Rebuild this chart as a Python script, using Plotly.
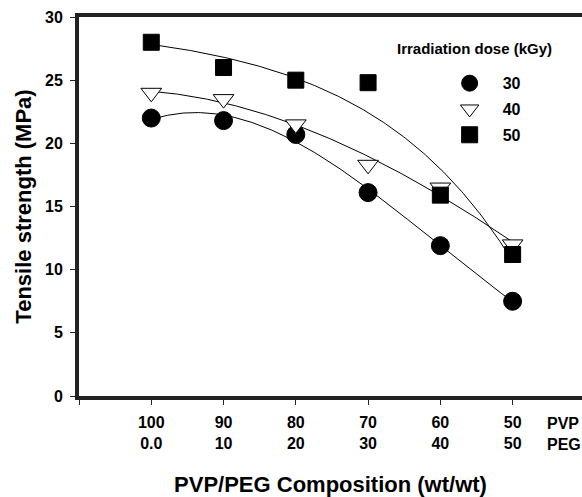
import numpy as np
import plotly.graph_objects as go

# ---- data ----
pvp = ["100", "90", "80", "70", "60", "50"]
peg = ["0.0", "10", "20", "30", "40", "50"]
xpos = [1, 2, 3, 4, 5, 6]
dose_30 = [22.0, 21.8, 20.7, 16.1, 11.9, 7.5]
dose_40 = [24.0, 23.5, 21.5, 18.3, 16.5, 12.0]
dose_50 = [28.0, 26.0, 25.0, 24.8, 15.9, 11.2]
series_names = ["30", "40", "50"]
y_ticks = [0, 5, 10, 15, 20, 25, 30]

FONT = "Liberation Sans, Arial, sans-serif"
fig = go.Figure()


def poly_fit(x, y, deg, xx):
    return np.polyval(np.polyfit(x, y, deg), xx)


def exp_fit(x, y, xx):
    # least-squares fit of y = A + B*exp(k*x)
    x = np.asarray(x, float)
    y = np.asarray(y, float)
    best = None
    for k in np.linspace(0.05, 1.5, 400):
        M = np.column_stack([np.ones_like(x), np.exp(k * x)])
        c, *_ = np.linalg.lstsq(M, y, rcond=None)
        sse = float(np.sum((M @ c - y) ** 2))
        if best is None or sse < best[0]:
            best = (sse, k, c)
    _, k, c = best
    return c[0] + c[1] * np.exp(k * xx)


xx = np.linspace(1, 6, 200)
fits = [poly_fit(xpos, dose_30, 3, xx),
        poly_fit(xpos, dose_40, 3, xx),
        exp_fit(xpos, dose_50, xx)]
for fy in fits:
    fig.add_trace(go.Scatter(x=xx, y=fy, mode="lines",
                             line=dict(color="black", width=1), showlegend=False,
                             hoverinfo="skip"))

styles = [
    dict(symbol="circle", size=18, color="black", line=dict(color="black", width=1)),
    dict(symbol="triangle-down", size=18, color="white", line=dict(color="black", width=1)),
    dict(symbol="square", size=16, color="black", line=dict(color="black", width=1)),
]
for ys, name, st in zip([dose_30, dose_40, dose_50], series_names, styles):
    fig.add_trace(go.Scatter(x=xpos, y=ys, mode="markers", name=name, marker=st,
                             legendgroup=name))

ticktext = [f"{a}<br>{b}" for a, b in zip(pvp, peg)]

fig.update_layout(
    width=582, height=497,
    margin=dict(l=79, r=0, t=17, b=101),
    paper_bgcolor="white", plot_bgcolor="white",
    font=dict(family=FONT, color="black"),
    showlegend=True,
    legend=dict(x=0.711, y=0.87, xanchor="left", yanchor="top",
                font=dict(size=16, family=FONT, weight="bold"),
                itemwidth=56, tracegroupgap=2, bgcolor="rgba(0,0,0,0)"),
    xaxis=dict(range=[0, 6.96], tickmode="array", tickvals=[0] + xpos,
               ticktext=[""] + ticktext, showgrid=False, zeroline=False,
               showline=True, linewidth=4, linecolor="#222", mirror=True,
               ticks="outside", ticklen=5, tickwidth=1, tickcolor="#222",
               ticklabelstandoff=4,
               tickfont=dict(size=16, family=FONT, weight="bold"),
               automargin=False,
               title=dict(text="PVP/PEG Composition (wt/wt)", standoff=27,
                          font=dict(size=22, family=FONT, weight="bold"))),
    yaxis=dict(range=[0, 30], tickvals=y_ticks, showgrid=False, zeroline=False,
               showline=True, linewidth=4, linecolor="#222",
               ticks="outside", ticklen=5, tickwidth=1, tickcolor="#222",
               ticklabelstandoff=4, automargin=False,
               tickfont=dict(size=16, family=FONT, weight="bold"),
               title=dict(text="Tensile strength (MPa)", standoff=8,
                          font=dict(size=22, family=FONT, weight="bold"))),
)

fig.add_annotation(x=6.45, y=0, xref="x", yref="y", yshift=-17, xanchor="left",
                   yanchor="top", text="PVP<br>PEG", showarrow=False, align="left",
                   font=dict(size=16, family=FONT, weight="bold"))
fig.add_annotation(x=0.628, y=0.918, xref="paper", yref="paper", xanchor="left",
                   yanchor="middle", text="Irradiation dose (kGy)", showarrow=False,
                   font=dict(size=15, family=FONT, weight="bold"))

fig.write_html("out.html")
